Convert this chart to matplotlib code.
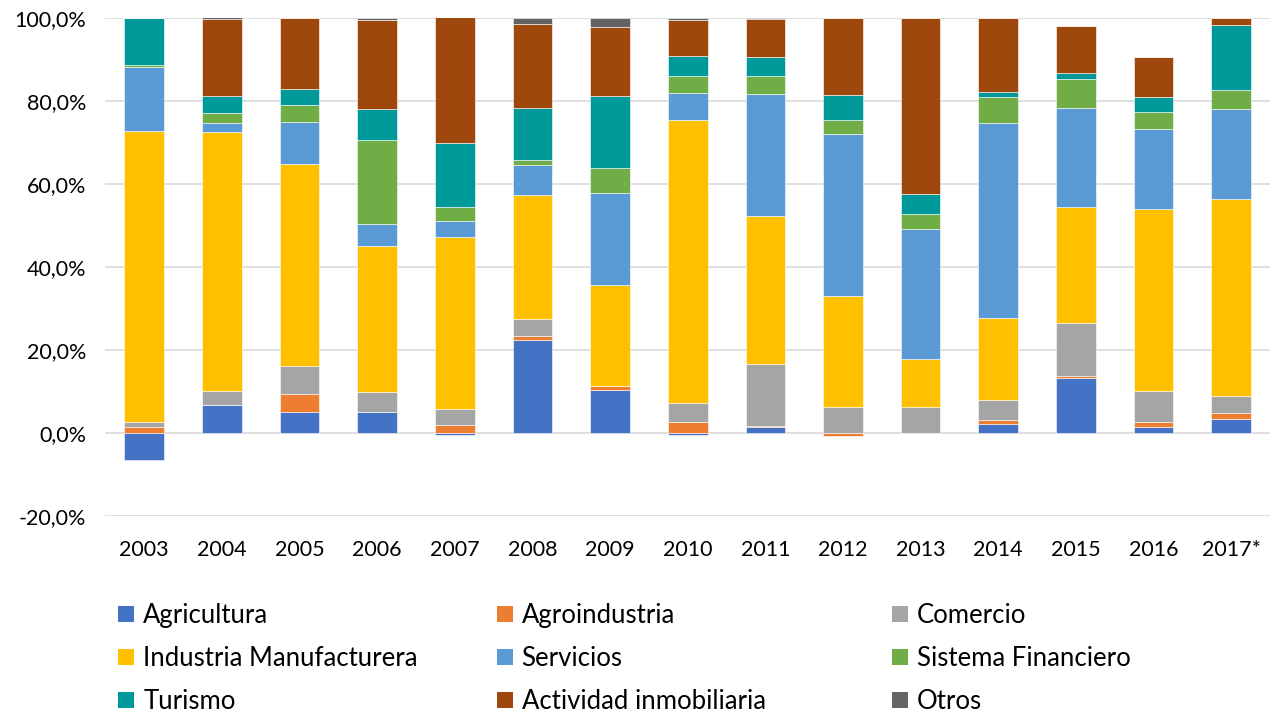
import numpy as np
import matplotlib.pyplot as plt
from matplotlib.ticker import FuncFormatter
from matplotlib.patches import Patch

plt.rcParams['font.family'] = ['Lato', 'DejaVu Sans']

years = ["2003", "2004", "2005", "2006", "2007", "2008", "2009", "2010",
         "2011", "2012", "2013", "2014", "2015", "2016", "2017*"]

agricultura = [-6.5, 6.9, 5.1, 5.0, -0.5, 22.5, 10.4, -0.5, 1.4, 0.0, 0.0, 2.3, 13.3, 1.5, 3.4]
agroindustria = [1.5, 0.0, 4.4, 0.0, 1.9, 0.8, 1.0, 2.7, 0.4, -0.7, 0.0, 0.8, 0.5, 1.2, 1.5]
comercio = [1.2, 3.2, 6.6, 4.8, 3.9, 4.2, 0.0, 4.5, 14.8, 6.3, 6.3, 4.9, 12.7, 7.5, 4.1]
industria = [70.1, 62.3, 48.7, 35.3, 41.4, 29.8, 24.2, 68.2, 35.7, 26.7, 11.5, 19.7, 28.0, 43.8, 47.4]
servicios = [15.4, 2.4, 10.2, 5.3, 3.8, 7.2, 22.2, 6.5, 29.3, 39.0, 31.4, 47.1, 23.7, 19.3, 21.6]
sistema_financiero = [0.5, 2.2, 4.0, 20.2, 3.4, 1.2, 6.0, 4.0, 4.4, 3.3, 3.6, 6.1, 7.0, 4.0, 4.6]
turismo = [11.3, 4.3, 3.8, 7.4, 15.5, 12.5, 17.5, 4.8, 4.5, 6.2, 4.9, 1.2, 1.5, 3.6, 15.6]
actividad_inmobiliaria = [0.0, 18.4, 17.2, 21.4, 30.2, 20.3, 16.6, 8.7, 9.3, 18.5, 42.3, 17.9, 11.4, 9.7, 1.8]
otros = [0.0, 0.4, 0.0, 0.6, 0.0, 1.5, 2.1, 0.6, 0.2, 0.0, 0.0, 0.0, 0.0, 0.0, 0.0]

series = [
    ("Agricultura", agricultura, "#4472C4"),
    ("Agroindustria", agroindustria, "#ED7D31"),
    ("Comercio", comercio, "#A5A5A5"),
    ("Industria Manufacturera", industria, "#FFC000"),
    ("Servicios", servicios, "#5B9BD5"),
    ("Sistema Financiero", sistema_financiero, "#70AD47"),
    ("Turismo", turismo, "#009999"),
    ("Actividad inmobiliaria", actividad_inmobiliaria, "#9E480E"),
    ("Otros", otros, "#636363"),
]

fig = plt.figure(figsize=(12.7, 7.15), dpi=100)
ax = fig.add_axes([0.083, 0.278, 0.917, 0.697])

x = np.arange(len(years))
pos_bottom = np.zeros(len(years))
neg_bottom = np.zeros(len(years))
for name, vals, color in series:
    v = np.array(vals)
    bottom = np.where(v >= 0, pos_bottom, neg_bottom)
    ax.bar(x, v, 0.51, bottom=bottom, color=color, edgecolor="white", linewidth=0.4, zorder=3)
    pos_bottom += np.clip(v, 0, None)
    neg_bottom += np.clip(v, None, 0)

ax.set_ylim(-20, 100)
ax.set_xlim(-0.5, len(years) - 0.5)
ax.set_yticks(np.arange(-20, 101, 20))
ax.yaxis.set_major_formatter(FuncFormatter(lambda v, p: f"{v:.1f}%".replace(".", ",")))
ax.set_xticks(x)
ax.set_xticklabels(years)
ax.grid(axis="y", color="#D9D9D9", linewidth=1.2, zorder=0)
for s in ax.spines.values():
    s.set_visible(False)
ax.tick_params(length=0, labelsize=15.5, colors="#000000")
ax.tick_params(axis="x", pad=17)
ax.tick_params(axis="y", pad=14)

# legend in three columns, row-major order
col_x = [0.085, 0.383, 0.694]
for c in range(3):
    handles = [Patch(facecolor=series[r * 3 + c][2], label=series[r * 3 + c][0]) for r in range(3)]
    fig.legend(handles=handles, loc="upper left", bbox_to_anchor=(col_x[c], 0.171),
               frameon=False, fontsize=18.5, handlelength=0.62, handleheight=0.62,
               handletextpad=0.35, labelspacing=0.7, borderaxespad=0)

fig.savefig("out.png", dpi=100)
